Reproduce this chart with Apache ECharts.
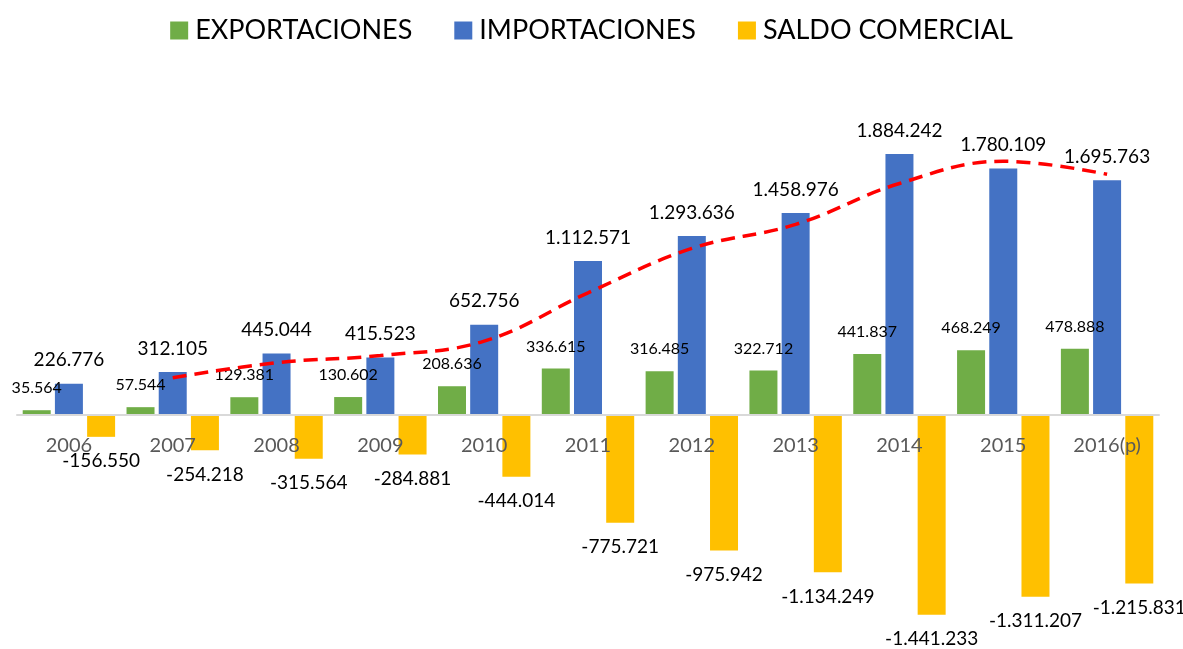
<!DOCTYPE html>
<html><head><meta charset="utf-8">
<script src="https://cdn.jsdelivr.net/npm/echarts@6/dist/echarts.min.js"></script>
<style>html,body{margin:0;padding:0;background:#fff}#c{width:1183px;height:649px}</style>
</head><body><div id="c"></div>
<script>
const categories = ['2006','2007','2008','2009','2010','2011','2012','2013','2014','2015','2016(p)'];
const exportaciones = [35564, 57544, 129381, 130602, 208636, 336615, 316485, 322712, 441837, 468249, 478888];
const importaciones = [226776, 312105, 445044, 415523, 652756, 1112571, 1293636, 1458976, 1884242, 1780109, 1695763];
const saldo = [-156550, -254218, -315564, -284881, -444014, -775721, -975942, -1134249, -1441233, -1311207, -1215831];
const tendencia = [null, 269441, 378575, 430284, 534140, 882664, 1203104, 1376306, 1671609, 1832176, 1737936];

function fmt(v){ const s = Math.abs(v).toString().replace(/\B(?=(\d{3})+(?!\d))/g,'.'); return (v<0?'-':'')+s; }
const FONT = 'Lato';
const chart = echarts.init(document.getElementById('c'), null, {renderer:'canvas'});
chart.setOption({
  animation:false,
  textStyle:{fontFamily:FONT},
  legend:{
    top:12, left:'center', itemWidth:18, itemHeight:18, itemGap:42,
    icon:'rect',
    textStyle:{fontSize:27, color:'#000', fontFamily:FONT, padding:[0,0,0,2]},
    data:['EXPORTACIONES','IMPORTACIONES','SALDO COMERCIAL']
  },
  grid:{left:17, right:24, top:138, height:485, containLabel:false, outerBoundsMode:'none'},
  xAxis:{
    type:'category', data:categories,
    axisLine:{onZero:true, lineStyle:{color:'#d9d9d9', width:2}},
    axisTick:{show:false},
    axisLabel:{color:'#595959', fontSize:20, margin:-187, fontFamily:FONT},
    z:10
  },
  yAxis:{type:'value', min:-1500000, max:2000000, show:true,
    axisLine:{show:false}, axisTick:{show:false}, axisLabel:{show:false}, splitLine:{show:false}},
  series:[
    {name:'EXPORTACIONES', type:'bar', data:exportaciones, barWidth:28, barGap:'15%',
     itemStyle:{color:'#70AD47'},
     label:{show:true, position:'top', distance:14, fontSize:16, color:'#000', formatter:p=>fmt(p.value)}},
    {name:'IMPORTACIONES', type:'bar', data:importaciones, barWidth:28, barGap:'15%',
     itemStyle:{color:'#4472C4'},
     label:{show:true, position:'top', distance:14, fontSize:19, color:'#000', formatter:p=>fmt(p.value)}},
    {name:'SALDO COMERCIAL', type:'bar', data:saldo, barWidth:28, barGap:'15%',
     itemStyle:{color:'#FFC000'},
     label:{show:true, position:'bottom', distance:15, fontSize:19, color:'#000', formatter:p=>fmt(p.value)}},
    {name:'Tendencia', type:'line', data:tendencia, smooth:0.4, symbol:'none',
     lineStyle:{color:'#FF0000', width:3.5, type:[14,8]}, z:5}
  ]
});
</script></body></html>
